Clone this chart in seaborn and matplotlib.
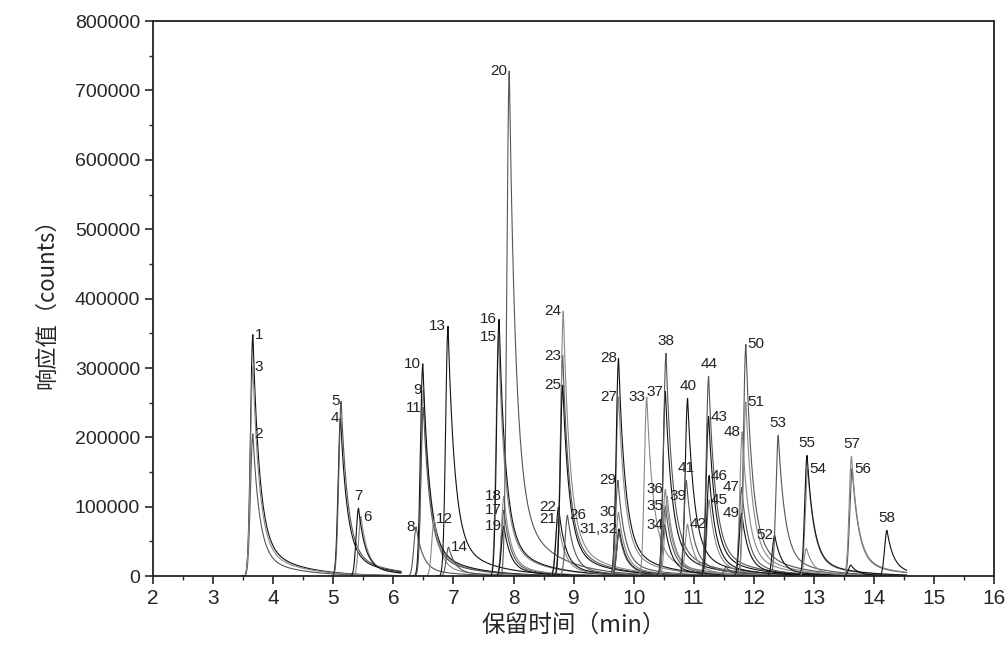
import numpy as np
import pandas as pd
import seaborn as sns
import matplotlib.pyplot as plt

# 峰号, 保留时间 (min), 响应值 (counts) - 从图上读出
peak_no = ["1", "2", "3", "4", "5", "6", "7", "8", "9", "10",
           "11", "12", "13", "14", "15", "16", "17", "18", "19", "20",
           "21", "22", "23", "24", "25", "26", "27", "28", "29", "30",
           "31,32", "", "33", "34", "35", "36", "37", "38", "39", "40",
           "41", "42", "43", "44", "45", "46", "47", "48", "49", "50",
           "51", "52", "53", "54", "55", "56", "57", "58"]
rt = [3.66, 3.66, 3.66, 5.12, 5.13, 5.46, 5.42, 6.38, 6.50, 6.49,
      6.50, 6.68, 6.91, 6.92, 7.75, 7.76, 7.84, 7.84, 7.84, 7.93,
      8.74, 8.75, 8.82, 8.83, 8.82, 8.90, 9.75, 9.75, 9.74, 9.75,
      9.76, 9.76, 10.22, 10.52, 10.53, 10.53, 10.53, 10.54, 10.56, 10.90,
      10.88, 10.90, 11.25, 11.25, 11.26, 11.26, 11.80, 11.81, 11.80, 11.87,
      11.87, 12.35, 12.41, 12.90, 12.89, 13.64, 13.63, 14.22]
height = [348000, 205000, 302000, 228000, 252000, 86000, 98000, 71000, 268000, 306000,
          243000, 82000, 360000, 42000, 345000, 370000, 95000, 115000, 72000, 728000,
          82000, 100000, 318000, 382000, 275000, 88000, 258000, 314000, 138000, 92000,
          68000, 62000, 258000, 74000, 101000, 125000, 266000, 321000, 115000, 256000,
          138000, 75000, 230000, 288000, 110000, 145000, 128000, 208000, 91000, 334000,
          251000, 59000, 203000, 155000, 174000, 155000, 173000, 66000]
# 标注位置: L 左侧, R 右侧, T 上方
label_side = ["R", "R", "R", "L", "L", "R", "T", "L", "L", "L",
              "L", "R", "L", "R", "L", "L", "L", "L", "L", "L",
              "L", "L", "L", "L", "L", "R", "L", "L", "L", "L",
              "L", "L", "L", "L", "L", "L", "L", "T", "R", "T",
              "T", "R", "R", "T", "R", "R", "L", "L", "L", "R",
              "R", "L", "T", "R", "T", "R", "T", "T"]

# 未标注的小峰
minor_rt = [11.54, 12.88, 13.62]
minor_height = [13000, 40000, 16000]


def peak_shape(t, t0, h):
    # 拖尾峰: 前沿高斯, 后沿双指数
    d = t - t0
    front = np.exp(-d ** 2 / (2 * 0.04 ** 2))
    dd = np.clip(d, 0, None)
    back = 0.85 * np.exp(-dd / 0.11) + 0.15 * np.exp(-dd / 0.6)
    return h * np.where(d < 0, front, back)


rows = []
all_rt = rt + minor_rt
all_h = height + minor_height
for i, (t0, h) in enumerate(zip(all_rt, all_h)):
    end = 6.13 if t0 < 6 else 14.55
    t = np.linspace(t0 - 0.2, min(t0 + 2.4, end), 600)
    y = peak_shape(t, t0, h)
    rows.append(pd.DataFrame({"t": t, "y": y, "trace": i}))
df = pd.concat(rows)

sns.set_style("white")
plt.rcParams["font.family"] = ["Liberation Sans", "Noto Sans CJK SC"]

fig = plt.figure(figsize=(10.08, 6.57), dpi=100)
ax = fig.add_axes([0.152, 0.123, 0.834, 0.845])

colors = ["#111111", "#555555", "#888888"]
pal = {k: colors[k % 3] for k in df["trace"].unique()}
sns.lineplot(data=df, x="t", y="y", hue="trace", palette=pal, linewidth=0.8,
             legend=False, ax=ax, estimator=None, sort=False)
ax.plot([15.2, 15.4], [600, 600], color="#555555", lw=0.8)

for lab, t0, h, side in zip(peak_no, rt, height, label_side):
    if not lab:
        continue
    if side == "L":
        ax.text(t0 - 0.03, h, lab, ha="right", va="center", fontsize=11, color="#222222")
    elif side == "R":
        ax.text(t0 + 0.03, h, lab, ha="left", va="center", fontsize=11, color="#222222")
    else:
        ax.text(t0, h + 8000, lab, ha="center", va="bottom", fontsize=11, color="#222222")

ax.set_xlim(2, 16)
ax.set_ylim(0, 800000)
ax.set_xticks(range(2, 17))
ax.set_xticks(np.arange(2.5, 16, 1), minor=True)
ax.set_yticks(range(0, 800001, 100000))
ax.set_yticks(range(50000, 800000, 100000), minor=True)
ax.tick_params(which="major", direction="out", length=6, width=1.2, bottom=True, left=True)
ax.tick_params(which="minor", direction="out", length=3, width=1, bottom=True, left=True)
ax.tick_params(axis="y", labelsize=14)
ax.tick_params(axis="x", labelsize=15)
for s in ax.spines.values():
    s.set_color("#222222")
    s.set_linewidth(1.3)

ax.set_xlabel("保留时间（min）", fontsize=17, family=["Noto Sans CJK SC"], labelpad=4)
ax.set_ylabel("响应值（counts）", fontsize=16, family=["Noto Sans CJK SC"], labelpad=12)

fig.savefig("out.png", dpi=100)
